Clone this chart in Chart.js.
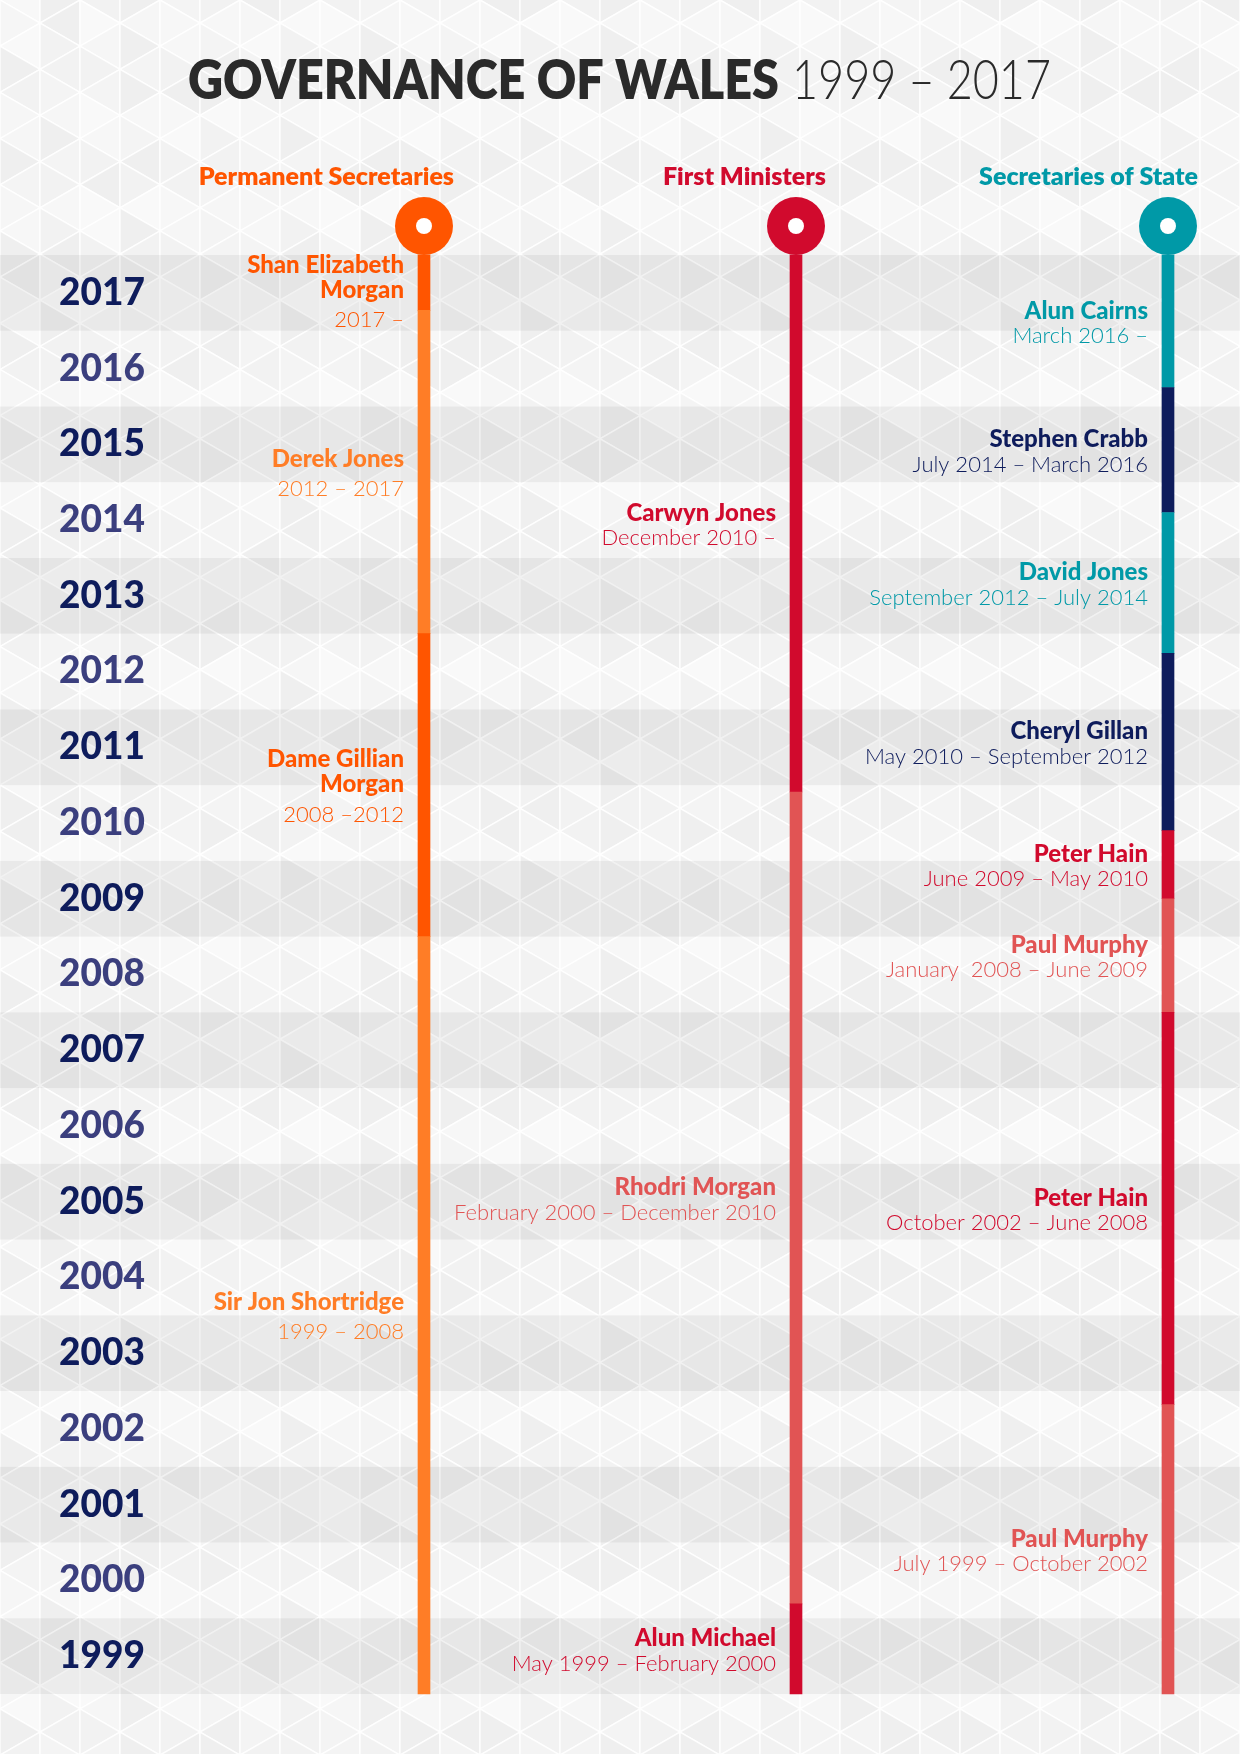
<!DOCTYPE html>
<html>
<head>
<meta charset="utf-8">
<script src="https://cdn.jsdelivr.net/npm/chart.js@4.4.1/dist/chart.umd.min.js"></script>
<style>
  html, body { margin: 0; padding: 0; background: #f8f8f8; }
  canvas { display: block; }
</style>
</head>
<body>
<canvas id="wales" width="1240" height="1754"></canvas>
<script>
const columns = ['Permanent Secretaries', 'First Ministers', 'Secretaries of State'];
const years = [2017, 2016, 2015, 2014, 2013, 2012, 2011, 2010, 2009, 2008,
               2007, 2006, 2005, 2004, 2003, 2002, 2001, 2000, 1999];

// Permanent Secretaries
const permNames = ['Shan Elizabeth\nMorgan', 'Derek Jones', 'Dame Gillian\nMorgan', 'Sir Jon Shortridge'];
const permDates = ['2017 –', '2012 – 2017', '2008 –2012', '1999 – 2008'];
const permFrom = [2017.27, 2013.0, 2009.0, 1999.0];
const permTo = [2018.0, 2017.27, 2013.0, 2009.0];

// First Ministers
const fmNames = ['Carwyn Jones', 'Rhodri Morgan', 'Alun Michael'];
const fmDates = ['December 2010 –', 'February 2000 – December 2010', 'May 1999 – February 2000'];
const fmFrom = [2010.91, 2000.19, 1999.0];
const fmTo = [2018.0, 2010.91, 2000.19];

// Secretaries of State
const sosNames = ['Alun Cairns', 'Stephen Crabb', 'David Jones', 'Cheryl Gillan',
                  'Peter Hain', 'Paul Murphy', 'Peter Hain', 'Paul Murphy'];
const sosDates = ['March 2016 –', 'July 2014 – March 2016', 'September 2012 – July 2014',
                  'May 2010 – September 2012', 'June 2009 – May 2010', 'January  2008 – June 2009',
                  'October 2002 – June 2008', 'July 1999 – October 2002'];
const sosFrom = [2016.25, 2014.6, 2012.74, 2010.4, 2009.5, 2008.0, 2002.82, 1999.0];
const sosTo = [2018.0, 2016.25, 2014.6, 2012.74, 2010.4, 2009.5, 2008.0, 2002.82];

// colours
const ORANGE = '#ff5500', ORANGE_LT = '#ff7d26';
const RED = '#d10a2d', RED_LT = '#e15454';
const TEAL = '#0099a7', NAVY = '#0e1c5c';
const permColors = [ORANGE, ORANGE_LT, ORANGE, ORANGE_LT];
const fmColors = [RED, RED_LT, RED];
const sosColors = [TEAL, NAVY, TEAL, NAVY, RED, RED_LT, RED, RED_LT];
const headColors = [ORANGE, RED, TEAL];
const dateGap = [30, 25, 25];

const groups = [
  { names: permNames, dates: permDates, from: permFrom, to: permTo, colors: permColors },
  { names: fmNames, dates: fmDates, from: fmFrom, to: fmTo, colors: fmColors },
  { names: sosNames, dates: sosDates, from: sosFrom, to: sosTo, colors: sosColors }
];

function drawPattern(ctx, w, h) {
  ctx.save();
  ctx.fillStyle = '#f8f8f8';
  ctx.fillRect(0, 0, w, h);
  const cw = 40, e = 2 * cw / Math.sqrt(3);
  const shades = ['#f6f6f6', '#f2f2f2', '#f9f9f9', '#efefef', '#f7f7f7', '#f4f4f4'];
  ctx.strokeStyle = 'rgba(255,255,255,0.85)';
  ctx.lineWidth = 1.5;
  const tri = (pts, fill) => {
    ctx.beginPath();
    ctx.moveTo(pts[0], pts[1]);
    ctx.lineTo(pts[2], pts[3]);
    ctx.lineTo(pts[4], pts[5]);
    ctx.closePath();
    ctx.fillStyle = fill;
    ctx.fill();
    ctx.stroke();
  };
  for (let i = 0; i * cw < w; i++) {
    const x0 = i * cw, x1 = x0 + cw;
    const off = (i % 2) ? e / 2 : 0;
    for (let k = -1; k * e < h + e; k++) {
      const ya = k * e + off;
      tri([x0, ya, x0, ya + e, x1, ya + e / 2], shades[(i * 7 + k * 3 + ((i * k) % 4)) % shades.length]);
      tri([x1, ya + e / 2, x1, ya + 1.5 * e, x0, ya + e], shades[(i * 5 + k * 11 + 2) % shades.length]);
    }
  }
  ctx.restore();
}

function fitText(ctx, text, x, y, targetWidth) {
  const m = ctx.measureText(text).width;
  ctx.save();
  ctx.translate(x, y);
  ctx.scale(targetWidth / m, 1);
  ctx.fillText(text, 0, 0);
  ctx.restore();
}

const decor = {
  id: 'decor',
  beforeDraw(chart) {
    const { ctx, width, height } = chart;
    const yScale = chart.scales.y;
    drawPattern(ctx, width, height);
    ctx.save();
    ctx.fillStyle = 'rgba(0,0,0,0.05)';
    years.forEach(yr => {
      if (yr % 2) {
        const t = yScale.getPixelForValue(yr + 1), b = yScale.getPixelForValue(yr);
        ctx.fillRect(0, t, width, b - t);
      }
    });
    ctx.restore();
  },
  afterDatasetsDraw(chart) {
    const { ctx, chartArea } = chart;
    const xScale = chart.scales.x;
    ctx.save();

    // title
    ctx.fillStyle = '#2a2a2a';
    ctx.textAlign = 'left';
    ctx.textBaseline = 'alphabetic';
    ctx.font = '800 55px Lato';
    fitText(ctx, 'GOVERNANCE OF WALES', 188, 99, 591);
    ctx.font = '300 55px Lato';
    fitText(ctx, '1999 – 2017', 792, 99, 259);

    columns.forEach((col, c) => {
      const cx = xScale.getPixelForValue(c);
      // header
      ctx.fillStyle = headColors[c];
      ctx.font = '800 25px Lato';
      ctx.textAlign = 'right';
      ctx.textBaseline = 'middle';
      ctx.fillText(col, cx + 30, 177);
      // ring
      const cy = chartArea.top - 29;
      ctx.beginPath();
      ctx.arc(cx, cy, 29, 0, Math.PI * 2);
      ctx.fill();
      ctx.beginPath();
      ctx.fillStyle = '#ffffff';
      ctx.arc(cx, cy, 8, 0, Math.PI * 2);
      ctx.fill();

      // labels for each term, centred on its bar
      const g = groups[c];
      chart.getDatasetMeta(c).data.forEach((bar, i) => {
        const mid = (bar.y + bar.base) / 2 + 2;
        const lines = g.names[i].split('\n');
        const block = (lines.length - 1) * 25 + dateGap[c];
        const yy = Math.max(mid - block / 2, chartArea.top + 10);
        const tx = bar.x - 20;
        ctx.fillStyle = g.colors[i];
        ctx.textAlign = 'right';
        ctx.font = '900 24px Lato';
        lines.forEach((ln, j) => ctx.fillText(ln, tx, yy + j * 25));
        ctx.font = '300 22px Lato';
        ctx.fillText(g.dates[i], tx, yy + (lines.length - 1) * 25 + dateGap[c]);
      });
    });
    ctx.restore();
  }
};

new Chart(document.getElementById('wales'), {
  type: 'bar',
  data: {
    labels: columns,
    datasets: groups.map((g, c) => ({
      label: columns[c],
      data: g.from.map((f, i) => ({ x: columns[c], y: [f, g.to[i]] })),
      backgroundColor: g.colors,
      borderWidth: 0,
      barThickness: 12,
      grouped: false,
      clip: false
    }))
  },
  options: {
    responsive: false,
    animation: false,
    events: [],
    layout: { padding: { top: 255, bottom: 60, left: 59, right: 72 } },
    plugins: { legend: { display: false }, tooltip: { enabled: false }, title: { display: false } },
    scales: {
      x: { type: 'category', offset: false, display: false },
      y: {
        min: 1999,
        max: 2018,
        grid: { display: false },
        border: { display: false },
        afterFit(scale) { scale.width = 365; },
        afterBuildTicks(scale) { scale.ticks = years.map(yr => ({ value: yr + 0.5 })); },
        ticks: {
          autoSkip: false,
          crossAlign: 'far',
          callback: v => String(Math.floor(v)),
          color: ctx => (Math.floor(ctx.tick.value) % 2 ? '#0e1c5c' : '#3b3f7e'),
          font: { family: 'Lato', weight: '900', size: 37 }
        }
      }
    }
  },
  plugins: [decor]
});
</script>
</body>
</html>
